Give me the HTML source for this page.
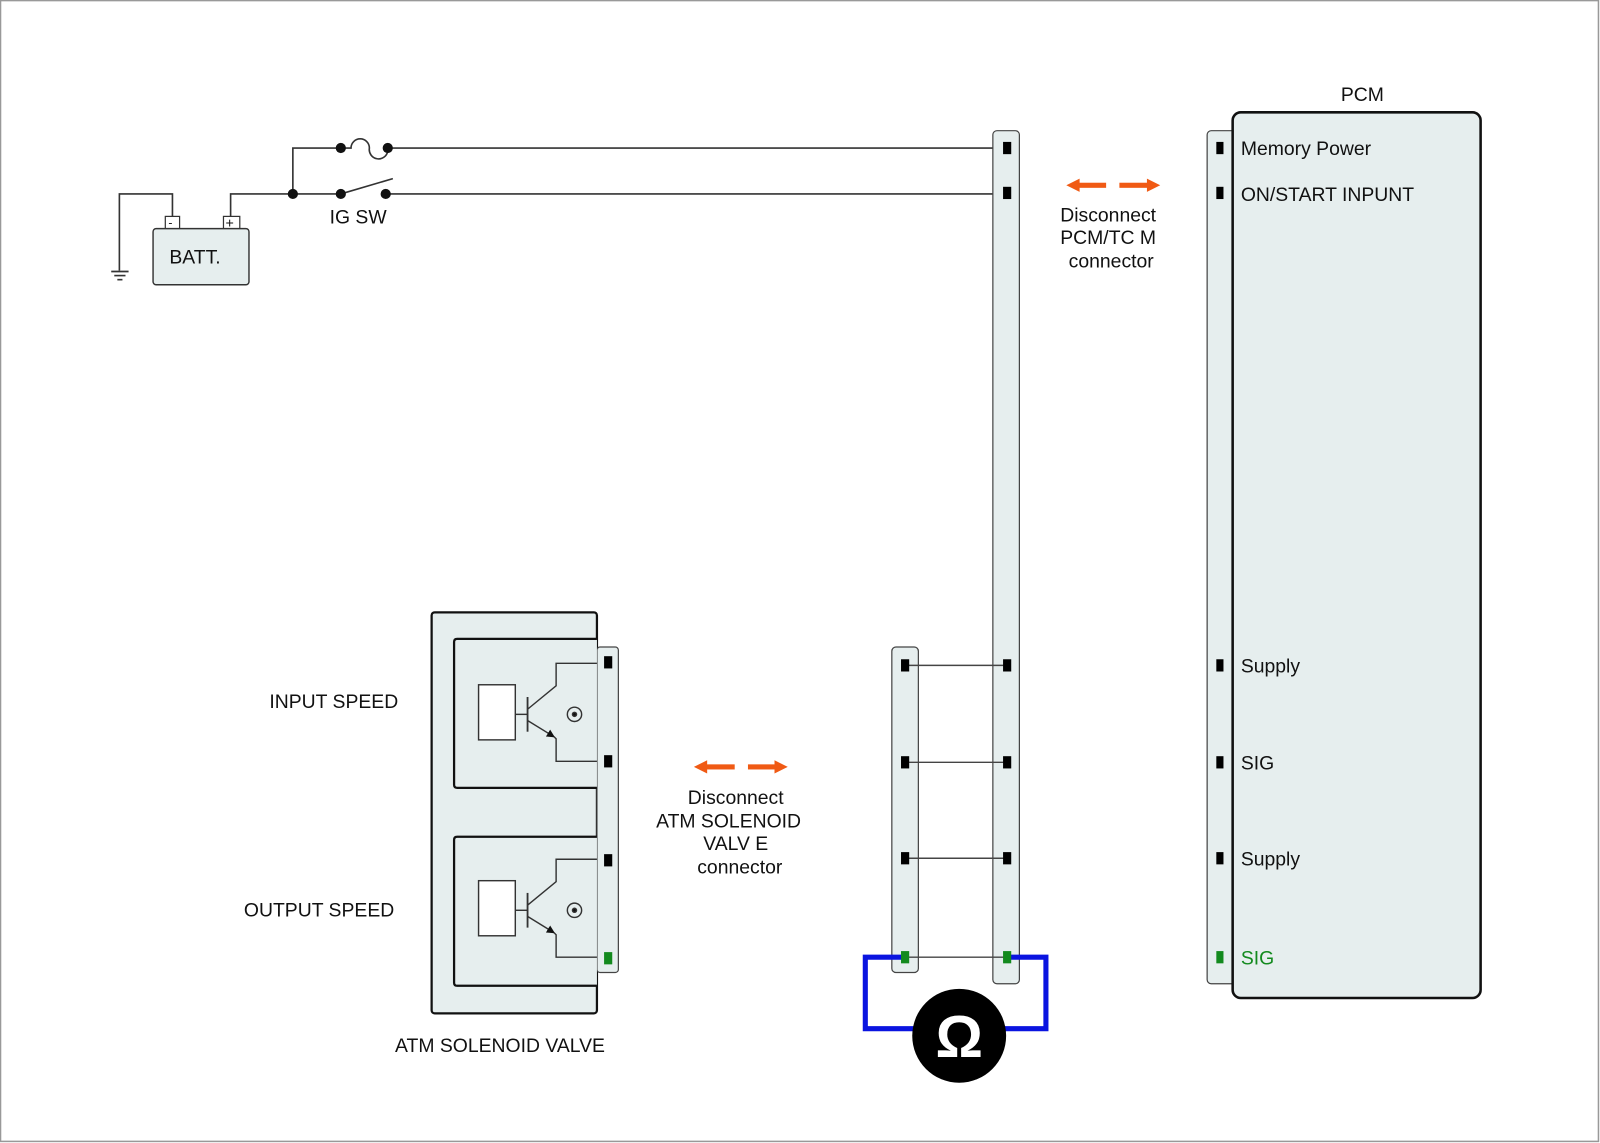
<!DOCTYPE html>
<html><head><meta charset="utf-8"><style>
html,body{margin:0;padding:0;background:#fff}
svg{display:block}
text{font-family:"Liberation Sans",sans-serif;font-size:19px;fill:#111}
</style></head><body>
<svg width="1600" height="1143" viewBox="0 0 1568 1120" xmlns="http://www.w3.org/2000/svg">
<defs>
<marker id="ah" markerWidth="8" markerHeight="8" refX="7" refY="4" orient="auto" markerUnits="userSpaceOnUse"><path d="M0,0 L8,4 L0,8z" fill="#111"/></marker>
</defs>
<rect x="0.5" y="0.5" width="1566" height="1118" fill="#fff" stroke="#999" stroke-width="1.5"/>
<g stroke="#333" stroke-width="1.6" fill="none">
<!-- ground / battery wiring -->
<polyline points="117,265 117,190 169,190 169,212"/>
<line x1="109" y1="266" x2="126" y2="266"/><line x1="112" y1="270" x2="123" y2="270"/><line x1="115" y1="274" x2="120" y2="274"/>
<polyline points="226,212 226,190 287,190"/>
<polyline points="287,190 287,145 334,145"/>
<path d="M334,145 L344,145 A9,9 0 0 1 362,145 A9,9 0 0 0 380,148"/>
<line x1="380" y1="145" x2="986" y2="145"/>
<line x1="287" y1="190" x2="334" y2="190"/>
<line x1="334" y1="190" x2="385" y2="175"/>
<line x1="378" y1="190" x2="986" y2="190"/>
</g>
<g fill="#111"><circle cx="287" cy="190" r="5"/><circle cx="334" cy="145" r="5"/><circle cx="380" cy="145" r="5"/><circle cx="334" cy="190" r="5"/><circle cx="378" cy="190" r="5"/></g>
<rect x="162" y="212" width="14" height="12" fill="#fff" stroke="#333" stroke-width="1.2"/>
<rect x="219" y="212" width="16" height="12" fill="#fff" stroke="#333" stroke-width="1.2"/>
<text x="165" y="222" style="font-size:12px">-</text><text x="221" y="223" style="font-size:14px">+</text>
<rect x="150" y="224" width="94" height="55" rx="3" fill="#e6eeee" stroke="#333" stroke-width="1.4"/>
<text x="166" y="258">BATT.</text>
<text x="323" y="219">IG SW</text>

<!-- right connector strip -->
<rect x="973" y="128" width="26" height="836" rx="4" fill="#e6eeee" stroke="#444" stroke-width="1.2"/>
<!-- left connector strip -->
<rect x="874" y="634" width="26" height="319" rx="4" fill="#e6eeee" stroke="#444" stroke-width="1.2"/>
<g stroke="#444" stroke-width="1.4">
<line x1="887" y1="652" x2="987" y2="652"/><line x1="887" y1="747" x2="987" y2="747"/><line x1="887" y1="841" x2="987" y2="841"/><line x1="887" y1="938" x2="987" y2="938"/>
</g>
<!-- blue meter wire -->
<polyline points="887,938 848,938 848,1008 900,1008" fill="none" stroke="#0a14e0" stroke-width="5"/>
<polyline points="987,938 1025,938 1025,1008 980,1008" fill="none" stroke="#0a14e0" stroke-width="5"/>
<circle cx="940" cy="1015" r="46" fill="#000"/>
<text x="940" y="1036" text-anchor="middle" style="font-size:58px;font-weight:bold;fill:#fff">Ω</text>
<g fill="#000">
<rect x="983" y="139" width="8" height="12"/><rect x="983" y="183" width="8" height="12"/>
<rect x="983" y="646" width="8" height="12"/><rect x="983" y="741" width="8" height="12"/><rect x="983" y="835" width="8" height="12"/>
<rect x="883" y="646" width="8" height="12"/><rect x="883" y="741" width="8" height="12"/><rect x="883" y="835" width="8" height="12"/>
</g>
<rect x="983" y="932" width="8" height="12" fill="#138a1e"/><rect x="883" y="932" width="8" height="12" fill="#138a1e"/>

<!-- PCM -->
<rect x="1183" y="128" width="28" height="836" rx="4" fill="#e6eeee" stroke="#444" stroke-width="1.2"/>
<rect x="1208" y="110" width="243" height="868" rx="8" fill="#e6eeee" stroke="#111" stroke-width="2.5"/>
<text x="1314" y="99">PCM</text>
<g fill="#000">
<rect x="1192" y="139" width="7" height="12"/><rect x="1192" y="183" width="7" height="12"/><rect x="1192" y="646" width="7" height="12"/><rect x="1192" y="741" width="7" height="12"/><rect x="1192" y="835" width="7" height="12"/>
</g>
<rect x="1192" y="932" width="7" height="12" fill="#138a1e"/>
<text x="1216" y="152">Memory Power</text>
<text x="1216" y="197">ON/START  INPUNT</text>
<text x="1216" y="659">Supply</text>
<text x="1216" y="754">SIG</text>
<text x="1216" y="848">Supply</text>
<text x="1216" y="945" style="fill:#138a1e">SIG</text>

<!-- disconnect arrows PCM -->
<g fill="#f05a14">
<rect x="1056" y="179" width="28" height="5"/><path d="M1045,181.5 L1058,175 L1058,188z"/>
<rect x="1097" y="179" width="28" height="5"/><path d="M1137,181.5 L1124,175 L1124,188z"/>
<rect x="691" y="749" width="29" height="5"/><path d="M680,751.5 L693,745 L693,758z"/>
<rect x="733" y="749" width="28" height="5"/><path d="M772,751.5 L759,745 L759,758z"/>
</g>
<g text-anchor="middle">
<text x="1086" y="217">Disconnect</text><text x="1086" y="239">PCM/TC  M</text><text x="1089" y="262">connector</text>
<text x="721" y="788">Disconnect</text><text x="714" y="811">ATM SOLENOID</text><text x="721" y="833">VALV  E</text><text x="725" y="856">connector</text>
</g>

<!-- ATM solenoid valve -->
<rect x="423" y="600" width="162" height="393" rx="3" fill="#e6eeee" stroke="#111" stroke-width="2.2"/>
<rect x="585" y="634" width="21" height="319" rx="3" fill="#e6eeee" stroke="#444" stroke-width="1.2"/>
<path d="M585,626 L448,626 Q445,626 445,629 L445,769 Q445,772 448,772 L585,772" fill="#e6eeee" stroke="#111" stroke-width="2.2"/>
<path d="M585,820 L448,820 Q445,820 445,823 L445,963 Q445,966 448,966 L585,966" fill="#e6eeee" stroke="#111" stroke-width="2.2"/>
<g id="tr" stroke="#333" stroke-width="1.4" fill="none">
<rect x="469" y="671" width="36" height="54" fill="#fff"/>
<line x1="505" y1="700" x2="517" y2="700"/>
<line x1="517" y1="683" x2="517" y2="717" stroke-width="1.8"/>
<polyline points="517,695 545,672 545,650 585,650"/>
<line x1="517" y1="706" x2="543" y2="722" marker-end="url(#ah)"/>
<polyline points="543,722 545,724 545,746 585,746"/>
<circle cx="563" cy="700" r="7"/>
<circle cx="563" cy="700" r="2" fill="#111"/>
</g>
<use href="#tr" transform="translate(0,192)"/>
<g fill="#000"><rect x="592" y="643" width="8" height="12"/><rect x="592" y="740" width="8" height="12"/><rect x="592" y="837" width="8" height="12"/></g>
<rect x="592" y="933" width="8" height="12" fill="#138a1e"/>
<text x="264" y="694">INPUT SPEED</text>
<text x="239" y="898">OUTPUT SPEED</text>
<text x="490" y="1031" text-anchor="middle">ATM SOLENOID VALVE</text>
</svg>
</body></html>
